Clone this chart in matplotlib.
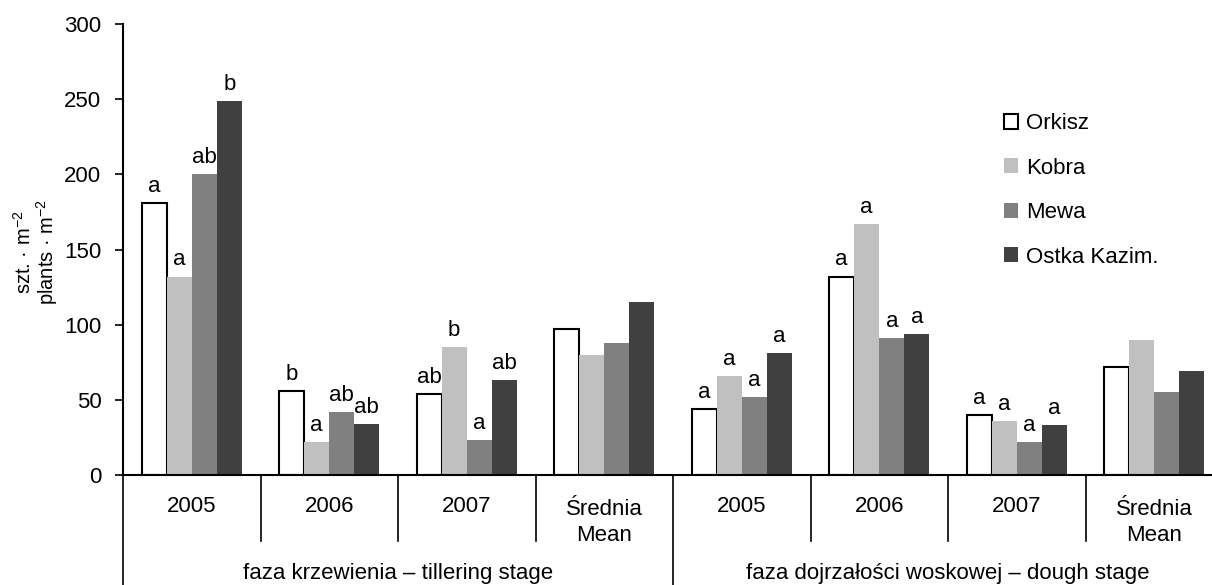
import matplotlib
matplotlib.use('Agg')
import matplotlib.pyplot as plt
import matplotlib.transforms as mtransforms
import numpy as np

plt.rcParams['font.family'] = ['Liberation Sans', 'DejaVu Sans']
plt.rcParams['mathtext.fontset'] = 'custom'
plt.rcParams['mathtext.rm'] = 'Liberation Sans'
plt.rcParams['mathtext.it'] = 'Liberation Sans:italic'

# plant density per stage / year, four wheat varieties
categories = ['2005', '2006', '2007', 'Średnia\nMean'] * 2
stages = ['faza krzewienia – tillering stage',
          'faza dojrzałości woskowej – dough stage']
varieties = ['Orkisz', 'Kobra', 'Mewa', 'Ostka Kazim.']

orkisz = [181, 56, 54, 97, 44, 132, 40, 72]
kobra = [132, 22, 85, 80, 66, 167, 36, 90]
mewa = [200, 42, 23, 88, 52, 91, 22, 55]
ostka = [249, 34, 63, 115, 81, 94, 33, 69]

letters_orkisz = ['a', 'b', 'ab', '', 'a', 'a', 'a', '']
letters_kobra = ['a', 'a', 'b', '', 'a', 'a', 'a', '']
letters_mewa = ['ab', 'ab', 'a', '', 'a', 'a', 'a', '']
letters_ostka = ['b', 'ab', 'ab', '', 'a', 'a', 'a', '']

series = [orkisz, kobra, mewa, ostka]
letters = [letters_orkisz, letters_kobra, letters_mewa, letters_ostka]
colors = ['white', '#c0c0c0', '#808080', '#404040']

W, H = 1212, 585
fig = plt.figure(figsize=(W / 100, H / 100), dpi=100)
ax = fig.add_axes([123 / W, 110 / H, 1100 / W, 451 / H])

x = np.arange(len(categories)) + 0.5
width = 0.182
handles = []
for k, (vals, col) in enumerate(zip(series, colors)):
    pos = x + (k - 1.5) * width
    if k == 0:
        b = ax.bar(pos, vals, width, color=col, edgecolor='black', linewidth=1.5, zorder=2)
    else:
        b = ax.bar(pos, vals, width, color=col, linewidth=0, zorder=2)
    handles.append(b)
    for xp, v, lab in zip(pos, vals, letters[k]):
        if lab:
            ax.annotate(lab, (xp, v), xytext=(0, 8), textcoords='offset points',
                        ha='center', va='baseline', fontsize=16)

ax.set_xlim(0, 8)
ax.set_ylim(0, 300)
ax.set_yticks(range(0, 301, 50))
ax.set_xticks([])
ax.spines['top'].set_visible(False)
ax.spines['right'].set_visible(False)
ax.spines['left'].set_linewidth(1.5)
ax.spines['bottom'].set_linewidth(1.5)
ax.tick_params(axis='y', length=6, width=1.2, labelsize=16, pad=9.5)

# category grid below the axis
trans = mtransforms.blended_transform_factory(ax.transData, ax.transAxes)
ah = 451.0
for i in range(9):
    low = -110 / ah if i % 4 == 0 else -66 / ah
    ax.plot([i, i], [0, low], transform=trans, color='black', lw=1.2, clip_on=False)

for xi, lab in zip(x, categories):
    yc = -47.5 / ah if '\n' in lab else -32 / ah
    ax.text(xi, yc, lab, transform=trans, ha='center', va='center',
            fontsize=16, linespacing=1.3)

for j, st in enumerate(stages):
    ax.text(2 + 4 * j, -98 / ah, st, transform=trans, ha='center', va='center', fontsize=16)

fig.text(24 / W, 1 - 252 / H, r'szt. · m$^{-2}$', rotation=90, ha='center', va='center', fontsize=14.5)
fig.text(47 / W, 1 - 252 / H, r'plants · m$^{-2}$', rotation=90, ha='center', va='center', fontsize=14.5)

ax.legend(handles, varieties, loc='upper left', bbox_to_anchor=(1004 / W, 1 - 113 / H),
          bbox_transform=fig.transFigure, frameon=False, fontsize=16,
          handlelength=0.65, handleheight=0.65, handletextpad=0.35,
          labelspacing=1.06, borderpad=0, borderaxespad=0)

fig.savefig('out.png', dpi=100)
